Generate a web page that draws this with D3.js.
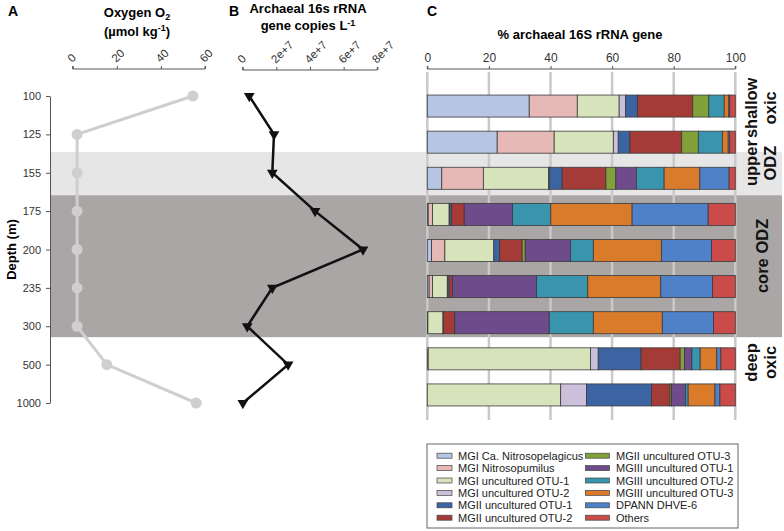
<!DOCTYPE html>
<html>
<head>
<meta charset="utf-8">
<script src="https://cdn.jsdelivr.net/npm/d3@7"></script>
<style>
  body { margin: 0; background: #fff; }
  svg { font-family: "Liberation Sans", Arial, sans-serif; }
</style>
</head>
<body>
<div id="chart"></div>
<script>
// depth categories (m)
const depths = ["100", "125", "155", "175", "200", "235", "300", "500", "1000"];

// oxygen, umol/kg
const oxygen = [54.5, 2, 2, 2, 2, 2, 2, 15.5, 56];
// archaeal 16S rRNA gene copies per litre
const copies = [3.9e6, 1.86e7, 1.76e7, 4.3e7, 7.15e7, 1.76e7, 2.7e6, 2.7e7, 1e5];

const groups = ["MGI Ca. Nitrosopelagicus", "MGI Nitrosopumilus", "MGI uncultured OTU-1",
  "MGI uncultured OTU-2", "MGII uncultured OTU-1", "MGII uncultured OTU-2",
  "MGII uncultured OTU-3", "MGIII uncultured OTU-1", "MGIII uncultured OTU-2",
  "MGIII uncultured OTU-3", "DPANN DHVE-6", "Others"];
const colors = ["#b5c5e2", "#e6b9b7", "#d6e3bb", "#cbc0db", "#3c64a2", "#a53b37",
  "#82a13b", "#6e4b8b", "#3895ad", "#d97b2b", "#4e81c7", "#cb4a4a"];

// % of archaeal 16S rRNA gene, one row per depth, columns in "groups" order
const percents = [
  [33.1, 15.6, 13.6, 2.1, 3.8, 18.0, 5.2, 0.0, 5.0, 1.5, 0.3, 1.8],
  [22.7, 18.5, 19.2, 1.6, 3.8, 16.8, 5.4, 0.0, 7.8, 1.9, 0.5, 1.8],
  [4.7, 13.5, 21.2, 0.2, 4.2, 14.2, 3.2, 6.7, 9.0, 11.6, 9.5, 2.0],
  [0.3, 1.4, 5.4, 0.2, 0.6, 4.1, 0.0, 15.7, 12.4, 26.4, 24.7, 8.8],
  [1.4, 4.3, 15.9, 0.0, 1.9, 7.3, 1.0, 14.7, 7.4, 22.1, 16.3, 7.7],
  [0.6, 1.1, 4.8, 0.0, 0.6, 1.1, 0.0, 27.3, 16.6, 23.7, 16.8, 7.4],
  [0.2, 0.0, 4.9, 0.0, 0.1, 3.7, 0.0, 30.7, 14.3, 22.4, 16.6, 7.1],
  [0.3, 0.0, 52.7, 2.5, 13.9, 12.7, 1.4, 2.4, 2.7, 5.4, 1.3, 4.7],
  [0.0, 0.0, 43.3, 8.4, 21.1, 6.0, 0.5, 4.5, 0.9, 8.7, 1.6, 5.0]
];

// water-column zones, in units of bar index
const zones = [
  { from: 1.27, to: 2.47, fill: "#e6e6e6" },
  { from: 2.47, to: 6.40, fill: "#a9a6a5" }
];
const zoneLabels = [
  { lines: ["shallow", "oxic"], at: 0.05 },
  { lines: ["upper", "ODZ"], at: 1.58 },
  { lines: ["core ODZ"], at: 4.15 },
  { lines: ["deep", "oxic"], at: 7.1 }
];

const oxTicks = [0, 20, 40, 60];
const cpTicks = [0, 2e7, 4e7, 6e7, 8e7];
const pcTicks = [0, 20, 40, 60, 80, 100];

const width = 784, height = 531;
const svg = d3.select("#chart").append("svg")
  .attr("width", width)
  .attr("height", height);

// scales
let yDepth = d3.scalePoint().domain(depths).range([96, 403]);
let yBar = d3.scaleBand().domain(depths).range([88, 413]).paddingInner(0.39).paddingOuter(0.195);
let yIdx = d3.scaleLinear().domain([0, 8]).range([yBar("100") + yBar.bandwidth() / 2, yBar("1000") + yBar.bandwidth() / 2]);
let xOx = d3.scaleLinear().domain([0, 60]).range([72.7, 205]);
let xCp = d3.scaleLinear().domain([0, 8e7]).range([242.7, 377.3]);
let xPc = d3.scaleLinear().domain([0, 100]).range([427.3, 735.3]);

function styleAxis(g) {
  g.attr("color", "#555");
  g.selectAll("text").attr("fill", "#333");
}

// zone shading
svg.selectAll("rect.zone")
  .data(zones)
  .enter().append("rect")
  .attr("class", "zone")
  .attr("x", 50)
  .attr("width", 782 - 50)
  .attr("y", d => yIdx(d.from))
  .attr("height", d => yIdx(d.to) - yIdx(d.from))
  .attr("fill", d => d.fill);

// panel letters
svg.selectAll("text.letter")
  .data([["A", 8], ["B", 229], ["C", 427]])
  .enter().append("text")
  .attr("class", "letter")
  .attr("x", d => d[1]).attr("y", 16)
  .attr("font-size", 14).attr("font-weight", "bold")
  .text(d => d[0]);

// depth axis
let gDepth = svg.append("g")
  .attr("transform", "translate(50,0)")
  .call(d3.axisLeft(yDepth).tickSize(4).tickSizeOuter(0));
styleAxis(gDepth);
gDepth.selectAll("text").attr("font-size", 11).attr("dx", "-2");

svg.append("text")
  .attr("transform", "translate(16," + ((96 + 403) / 2) + ") rotate(-90)")
  .attr("text-anchor", "middle")
  .attr("font-size", 13).attr("font-weight", "bold")
  .text("Depth (m)");

function rotateTicks(g) {
  g.selectAll(".tick text")
    .attr("x", 0).attr("y", 0).attr("dy", 0)
    .attr("text-anchor", "start")
    .attr("font-size", 11.5)
    .attr("transform", "translate(-1,-6) rotate(-45)");
}

// panel A: oxygen
let gOx = svg.append("g")
  .attr("transform", "translate(0,69)")
  .call(d3.axisTop(xOx).tickValues(oxTicks).tickSize(3).tickFormat(d3.format("d")));
styleAxis(gOx);
rotateTicks(gOx);
gOx.select(".domain").attr("d", "M" + xOx(0) + ",-3V0H" + xOx(60) + "V-3");

let tA = svg.append("text").attr("text-anchor", "middle")
  .attr("font-size", 13).attr("font-weight", "bold");
tA.append("tspan").attr("x", 137).attr("y", 17).text("Oxygen O");
tA.append("tspan").attr("font-size", 9).attr("dy", 3).text("2");
let tA2 = svg.append("text").attr("text-anchor", "middle")
  .attr("font-size", 13).attr("font-weight", "bold");
tA2.append("tspan").attr("x", 137).attr("y", 36).text("(\u00b5mol kg");
tA2.append("tspan").attr("font-size", 9).attr("dy", -5).text("-1");
tA2.append("tspan").attr("dy", 5).text(")");

let lineOx = d3.line()
  .x(d => xOx(d))
  .y((d, i) => yDepth(depths[i]));
svg.append("path")
  .datum(oxygen)
  .attr("d", lineOx)
  .attr("fill", "none")
  .attr("stroke", "#cfcfcf")
  .attr("stroke-width", 3);
svg.selectAll("circle.ox")
  .data(oxygen)
  .enter().append("circle")
  .attr("class", "ox")
  .attr("cx", d => xOx(d))
  .attr("cy", (d, i) => yDepth(depths[i]))
  .attr("r", 5.5)
  .attr("fill", "#cfcfcf");

// panel B: gene copies
let gCp = svg.append("g")
  .attr("transform", "translate(0,70)")
  .call(d3.axisTop(xCp).tickValues(cpTicks).tickSize(3)
    .tickFormat(d => d === 0 ? "0" : (d / 1e7) + "e+7"));
styleAxis(gCp);
rotateTicks(gCp);
gCp.select(".domain").attr("d", "M" + xCp(0) + ",-3V0H" + xCp(8e7) + "V-3");

let tB = svg.append("text").attr("text-anchor", "middle")
  .attr("font-size", 13).attr("font-weight", "bold");
tB.append("tspan").attr("x", 308).attr("y", 13).text("Archaeal 16s rRNA");
let tB2 = svg.append("text").attr("text-anchor", "middle")
  .attr("font-size", 13).attr("font-weight", "bold");
tB2.append("tspan").attr("x", 308).attr("y", 30).text("gene copies L");
tB2.append("tspan").attr("font-size", 9).attr("dy", -4).text("-1");

let lineCp = d3.line()
  .x(d => xCp(d))
  .y((d, i) => yDepth(depths[i]));
svg.append("path")
  .datum(copies)
  .attr("d", lineCp)
  .attr("fill", "none")
  .attr("stroke", "#111")
  .attr("stroke-width", 2.5);
svg.selectAll("path.tri")
  .data(copies)
  .enter().append("path")
  .attr("class", "tri")
  .attr("d", d3.symbol().type(d3.symbolTriangle).size(50))
  .attr("transform", (d, i) => "translate(" + xCp(d) + "," + yDepth(depths[i]) + ") rotate(180)")
  .attr("fill", "#111");

// panel C: composition
let gPc = svg.append("g")
  .attr("transform", "translate(0,69)")
  .call(d3.axisTop(xPc).tickValues(pcTicks).tickSize(3));
styleAxis(gPc);
gPc.selectAll(".tick text").attr("font-size", 12).attr("y", -7);
gPc.select(".domain").attr("d", "M" + xPc(0) + ",-3V0H" + xPc(100) + "V-3");

svg.append("text")
  .attr("x", 580).attr("y", 39)
  .attr("text-anchor", "middle")
  .attr("font-size", 13).attr("font-weight", "bold")
  .text("% archaeal 16S rRNA gene");

svg.selectAll("line.grid")
  .data(pcTicks)
  .enter().append("line")
  .attr("class", "grid")
  .attr("x1", d => xPc(d)).attr("x2", d => xPc(d))
  .attr("y1", 72).attr("y2", 420)
  .attr("stroke", "#c9c9c9")
  .attr("stroke-width", 2.5);

let stackData = percents.map((row, i) => {
  let o = { depth: depths[i] };
  groups.forEach((g, j) => { o[g] = row[j]; });
  return o;
});
let series = d3.stack().keys(groups)(stackData);

let layers = svg.selectAll("g.layer")
  .data(series)
  .enter().append("g")
  .attr("class", "layer")
  .attr("fill", (d, i) => colors[i]);
layers.selectAll("rect")
  .data(d => d.filter(s => s[1] - s[0] > 0))
  .enter().append("rect")
  .attr("x", d => xPc(d[0]))
  .attr("width", d => xPc(d[1]) - xPc(d[0]))
  .attr("y", d => yBar(d.data.depth))
  .attr("height", yBar.bandwidth())
  .attr("stroke", "#3a3a3a")
  .attr("stroke-width", 0.8);

// zone labels on the right
zoneLabels.forEach(z => {
  let n = z.lines.length;
  z.lines.forEach((s, k) => {
    let x = n === 1 ? 768 : 757 + k * 19;
    svg.append("text")
      .attr("transform", "translate(" + x + "," + yIdx(z.at) + ") rotate(-90)")
      .attr("text-anchor", "middle")
      .attr("font-size", 16.5).attr("font-weight", "bold")
      .attr("fill", "#111")
      .text(s);
  });
});

// legend
let lg = svg.append("g").attr("transform", "translate(427,444)");
lg.append("rect")
  .attr("width", 311).attr("height", 84)
  .attr("fill", "#fff")
  .attr("stroke", "#666");
let items = lg.selectAll("g.item")
  .data(groups)
  .enter().append("g")
  .attr("class", "item")
  .attr("transform", (d, i) => "translate(" + (i < 6 ? 10 : 158.5) + "," + (11.7 + (i % 6) * 12.4) + ")");
items.append("rect")
  .attr("x", 0).attr("y", -2.5)
  .attr("width", (d, i) => i < 6 ? 15 : 24)
  .attr("height", 5)
  .attr("fill", (d, i) => colors[i])
  .attr("stroke", "#444")
  .attr("stroke-width", 0.7);
items.append("text")
  .attr("x", (d, i) => i < 6 ? 21 : 30.5)
  .attr("y", 4)
  .attr("font-size", 11)
  .attr("fill", "#222")
  .text(d => d);
</script>
</body>
</html>
